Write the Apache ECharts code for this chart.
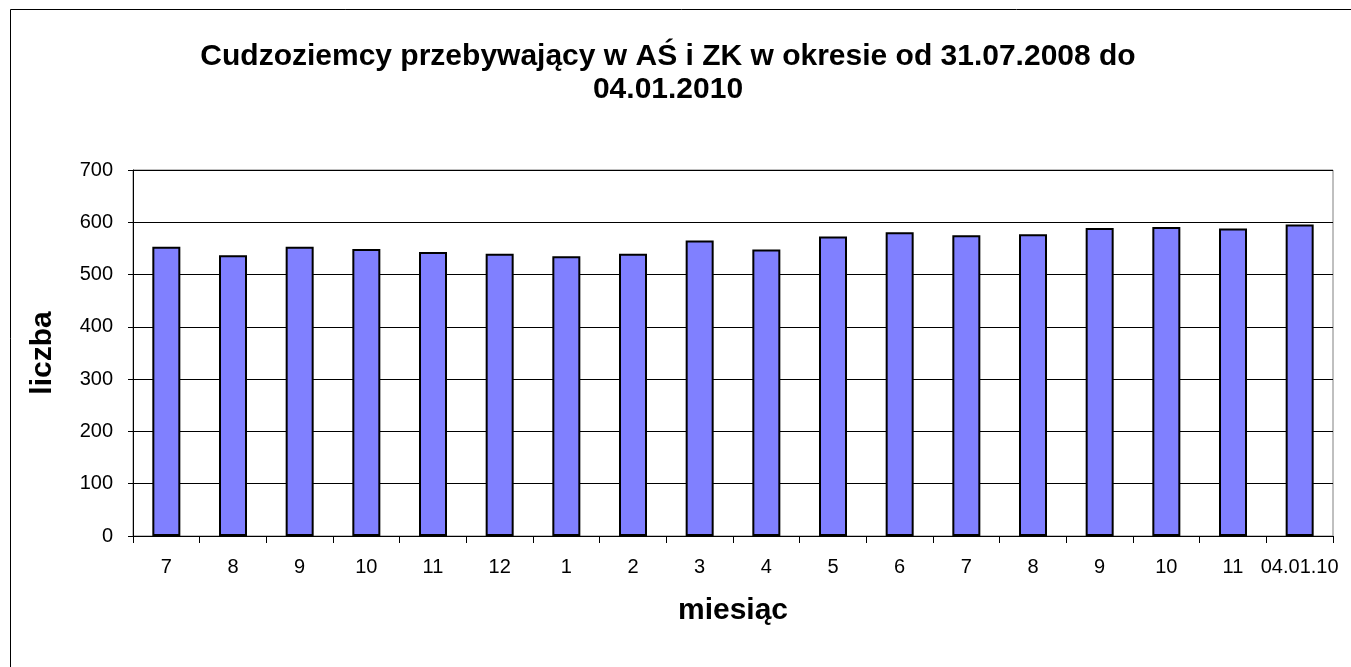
<!DOCTYPE html>
<html>
<head>
<meta charset="utf-8">
<script src="https://cdn.jsdelivr.net/npm/echarts@6/dist/echarts.min.js"></script>
<style>
  html, body { margin: 0; padding: 0; background: #fff; }
  #chart { width: 1351px; height: 667px; }
</style>
</head>
<body>
<div id="chart"></div>
<script>
// months from 07.2008 to 04.01.2010
const months = ['7', '8', '9', '10', '11', '12', '1', '2', '3', '4', '5', '6', '7', '8', '9', '10', '11', '04.01.10'];
const counts = [553, 537, 553, 549, 543, 540, 535, 540, 565, 548, 573, 581, 575, 577, 589, 591, 588, 596];
const yTicks = [0, 700, 100];

const font = 'Liberation Sans, Arial, sans-serif';

const chart = echarts.init(document.getElementById('chart'));
chart.setOption({
  animation: false,
  title: {
    text: 'Cudzoziemcy przebywający w AŚ i ZK w okresie od 31.07.2008 do\n04.01.2010',
    left: 663,
    top: 35,
    textAlign: 'center',
    textStyle: { fontFamily: font, fontSize: 30, fontWeight: 'bold', color: '#000', lineHeight: 33 }
  },
  graphic: [{
    type: 'rect',
    shape: { x: 10.5, y: 9.5, width: 1400, height: 700 },
    style: { fill: null, stroke: '#000', lineWidth: 1 }
  }],
  grid: {
    left: 133, right: 18, top: 170, bottom: 131,
    show: true, borderColor: '#808080', borderWidth: 1
  },
  xAxis: {
    type: 'category',
    data: months,
    name: 'miesiąc',
    nameLocation: 'middle',
    nameGap: 60,
    nameTextStyle: { fontFamily: font, fontSize: 30, fontWeight: 'bold', color: '#000' },
    axisLine: { lineStyle: { color: '#000', width: 1 } },
    axisTick: { show: true, length: 7, lineStyle: { color: '#000' } },
    axisLabel: { interval: 0, fontFamily: font, fontSize: 20, color: '#000', margin: 21 }
  },
  yAxis: {
    type: 'value',
    min: yTicks[0], max: yTicks[1], interval: yTicks[2],
    name: 'liczba',
    nameLocation: 'middle',
    nameGap: 75,
    nameTextStyle: { fontFamily: font, fontSize: 30, fontWeight: 'bold', color: '#000' },
    axisLine: { show: true, lineStyle: { color: '#000', width: 1 } },
    axisTick: { show: true, length: 5, lineStyle: { color: '#000' } },
    axisLabel: { fontFamily: font, fontSize: 20, color: '#000', margin: 20 },
    splitLine: { show: true, lineStyle: { color: '#000', width: 1 } }
  },
  series: [{
    type: 'bar',
    data: counts,
    barWidth: '42%',
    itemStyle: { color: '#8080FF', borderColor: '#000', borderWidth: 2 }
  }]
});
</script>
</body>
</html>
